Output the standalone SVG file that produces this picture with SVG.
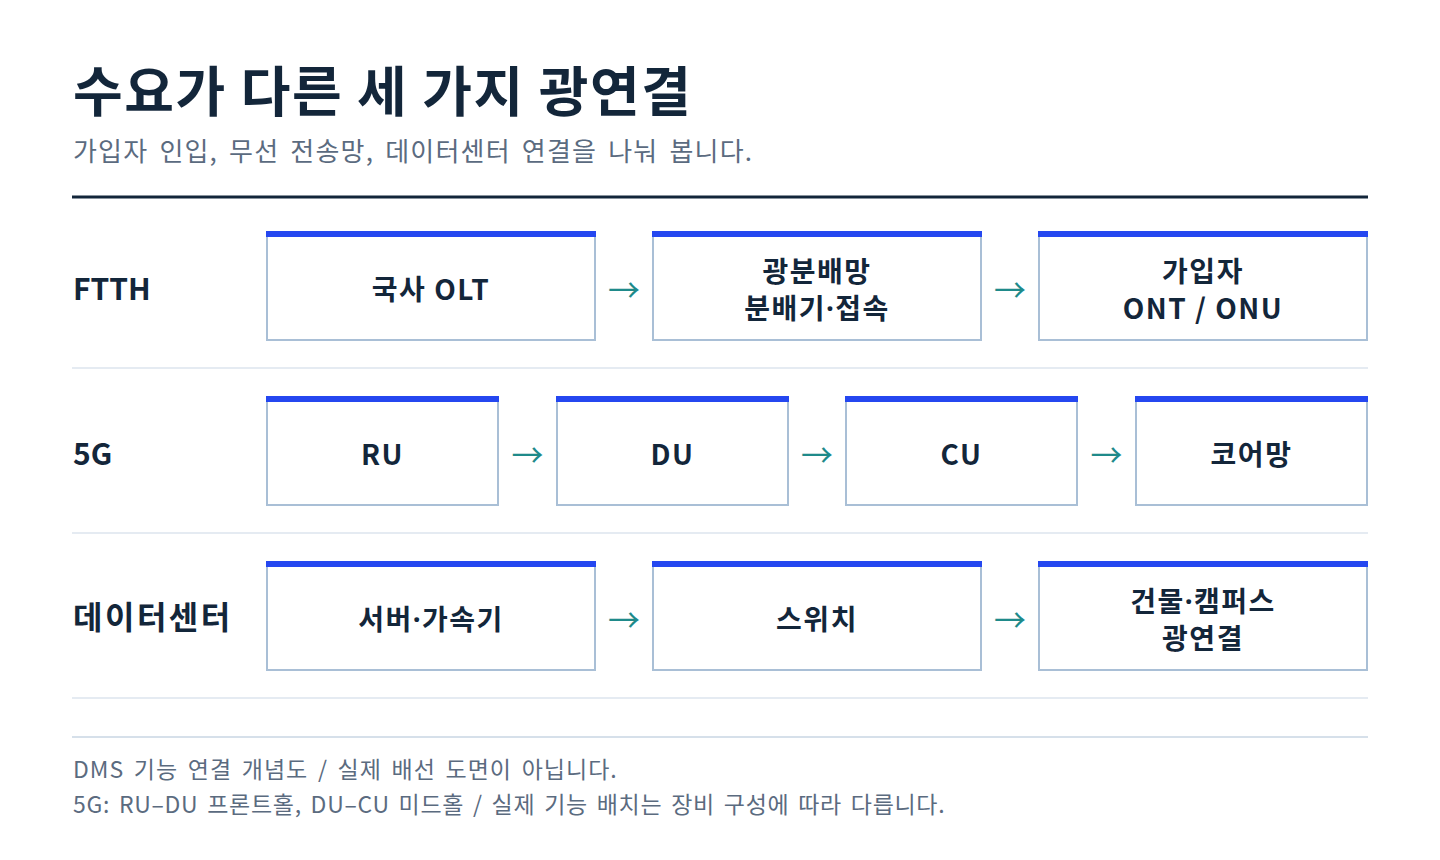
<svg xmlns="http://www.w3.org/2000/svg" width="1440" height="860" viewBox="0 0 1440 860">
<style>
text{font-family:"Noto Sans CJK KR","Noto Sans",sans-serif;}
.title{font-size:54px;font-weight:700;fill:#13263a;letter-spacing:1.6px;}
.sub{font-size:26px;fill:#5b6b7f;letter-spacing:1.2px;word-spacing:4px;}
.row{font-size:30px;font-weight:700;fill:#13263a;}
.rowk{font-size:32px;letter-spacing:2.5px;}
.box{fill:#ffffff;stroke:#a9bfd6;stroke-width:2;}
.bar{fill:#2547f0;}
.lbl{font-size:28px;font-weight:700;fill:#13263a;text-anchor:middle;letter-spacing:1.5px;}
.dot{font-family:"Noto Sans",sans-serif;}
.arr{font-size:32px;fill:#1f8a8a;text-anchor:middle;}
.sep{stroke:#dde5ee;stroke-width:1.5;}
.foot{font-size:23px;fill:#5b6b7f;letter-spacing:1px;word-spacing:3.5px;}
.foot2{letter-spacing:0.7px;word-spacing:3px;}
</style>
<rect width="1440" height="860" fill="#ffffff"/>
<text class="title" x="73" y="112">수요가 다른 세 가지 광연결</text>
<text class="sub" x="73" y="161">가입자 인입, 무선 전송망, 데이터센터 연결을 나눠 봅니다.</text>
<line x1="72" y1="197" x2="1368" y2="197" stroke="#13263a" stroke-width="3"/>

<text class="row" x="73" y="300">FTTH</text>
<text class="row" x="73" y="465">5G</text>
<text class="row rowk" x="73" y="629">데이터센터</text>

<line class="sep" x1="72" y1="368" x2="1368" y2="368"/>
<line class="sep" x1="72" y1="533" x2="1368" y2="533"/>
<line class="sep" x1="72" y1="698" x2="1368" y2="698"/>
<line x1="72" y1="737" x2="1368" y2="737" stroke="#d6e0ea" stroke-width="2"/>

<g id="n-olt"><rect class="box" x="267" y="232" width="328" height="108"/><rect class="bar" x="266" y="231" width="330" height="6"/><text class="lbl" x="431" y="300">국사 OLT</text></g>
<g id="n-split"><rect class="box" x="653" y="232" width="328" height="108"/><rect class="bar" x="652" y="231" width="330" height="6"/><text class="lbl" x="817" y="281.5">광분배망<tspan x="817" dy="37">분배기</tspan><tspan class="dot">·</tspan><tspan>접속</tspan></text></g>
<g id="n-ont"><rect class="box" x="1039" y="232" width="328" height="108"/><rect class="bar" x="1038" y="231" width="330" height="6"/><text class="lbl" x="1203" y="281.5">가입자<tspan x="1203" dy="37">ONT / ONU</tspan></text></g>

<g id="n-ru"><rect class="box" x="267" y="397" width="231" height="108"/><rect class="bar" x="266" y="396" width="233" height="6"/><text class="lbl" x="382.5" y="465">RU</text></g>
<g id="n-du"><rect class="box" x="557" y="397" width="231" height="108"/><rect class="bar" x="556" y="396" width="233" height="6"/><text class="lbl" x="672.5" y="465">DU</text></g>
<g id="n-cu"><rect class="box" x="846" y="397" width="231" height="108"/><rect class="bar" x="845" y="396" width="233" height="6"/><text class="lbl" x="961.5" y="465">CU</text></g>
<g id="n-core"><rect class="box" x="1136" y="397" width="231" height="108"/><rect class="bar" x="1135" y="396" width="233" height="6"/><text class="lbl" x="1251.5" y="465">코어망</text></g>

<g id="n-server"><rect class="box" x="267" y="562" width="328" height="108"/><rect class="bar" x="266" y="561" width="330" height="6"/><text class="lbl" x="431" y="630">서버<tspan class="dot">·</tspan>가속기</text></g>
<g id="n-switch"><rect class="box" x="653" y="562" width="328" height="108"/><rect class="bar" x="652" y="561" width="330" height="6"/><text class="lbl" x="817" y="630">스위치</text></g>
<g id="n-campus"><rect class="box" x="1039" y="562" width="328" height="108"/><rect class="bar" x="1038" y="561" width="330" height="6"/><text class="lbl" x="1203" y="611.5">건물<tspan class="dot">·</tspan>캠퍼스<tspan x="1203" dy="37">광연결</tspan></text></g>

<g id="connectors">
<text class="arr" x="624" y="302">→</text>
<text class="arr" x="1010" y="302">→</text>
<text class="arr" x="527.5" y="467">→</text>
<text class="arr" x="817" y="467">→</text>
<text class="arr" x="1106.5" y="467">→</text>
<text class="arr" x="624" y="632">→</text>
<text class="arr" x="1010" y="632">→</text>
</g>

<text class="foot" x="73" y="778">DMS 기능 연결 개념도 / 실제 배선 도면이 아닙니다.</text>
<text class="foot foot2" x="73" y="813">5G: RU–DU 프론트홀, DU–CU 미드홀 / 실제 기능 배치는 장비 구성에 따라 다릅니다.</text>
</svg>
